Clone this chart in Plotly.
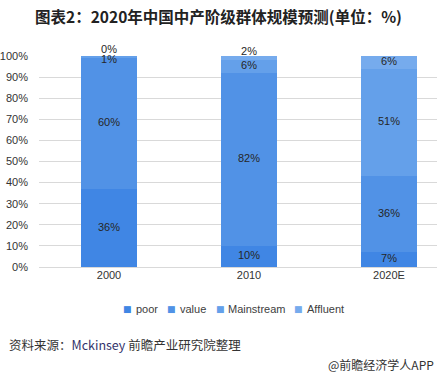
import plotly.graph_objects as go

years = ["2000", "2010", "2020E"]
series_names = ["poor", "value", "Mainstream", "Affluent"]
poor = [36, 10, 7]
value = [60, 82, 36]
mainstream = [1, 6, 51]
affluent = [0, 2, 6]
series_values = [poor, value, mainstream, affluent]
colors = ["#4086e4", "#5192e6", "#64a0ea", "#76abed"]

FONT = "Liberation Sans, Noto Sans CJK SC, sans-serif"
CJK = "Noto Sans CJK SC, Liberation Sans, sans-serif"

fig = go.Figure()
for name, vals, col in zip(series_names, series_values, colors):
    fig.add_trace(go.Bar(x=years, y=vals, name=name, marker=dict(color=col, line=dict(width=0)),
                         width=0.4, showlegend=False, hoverinfo="skip"))

# data labels at segment midpoints (normalized to 100%)
lx, ly, lt, lp = [], [], [], []
for i, yr in enumerate(years):
    total = sum(s[i] for s in series_values)
    cum = 0
    for k, s in enumerate(series_values):
        v = s[i] / total * 100
        bottom = cum
        mid = cum + v / 2
        cum += v
        is_top = k == len(series_values) - 1
        lx.append(yr)
        lt.append(f"{s[i]}%")
        if is_top and v < 3:
            ly.append(mid)
            lp.append("top center")
        elif v < 3:
            ly.append(bottom - 0.8)
            lp.append("middle center")
        else:
            ly.append(mid)
            lp.append("middle center")

fig.add_trace(go.Scatter(x=lx, y=ly, text=lt, mode="text", textposition=lp,
                         textfont=dict(family=FONT, size=11, color="#262626"),
                         cliponaxis=False, showlegend=False, hoverinfo="skip"))

L, W, T, H = 39, 398, 56, 211
def px_x(p):
    return (p - L) / W
def px_y(p):
    return (T + H - p) / H

annotations = []
# custom legend
sq_x = [127, 171, 220, 298]
tx_x = [134, 178, 226, 305]
for name, col, sx, tx in zip(series_names, colors, sq_x, tx_x):
    annotations.append(dict(x=px_x(sx), y=px_y(309), xref="paper", yref="paper", text="■",
                            showarrow=False, xanchor="center", yanchor="middle",
                            font=dict(family="DejaVu Sans", size=9, color=col)))
    annotations.append(dict(x=px_x(tx), y=px_y(309), xref="paper", yref="paper", text=name,
                            showarrow=False, xanchor="left", yanchor="middle",
                            font=dict(family=FONT, size=11, color="#404040")))

annotations.append(dict(x=px_x(7), y=px_y(344), xref="paper", yref="paper",
                        text="资料来源：<span style='color:#33336b'>Mckinsey</span> 前瞻产业研究院整理",
                        showarrow=False, xanchor="left", yanchor="middle",
                        font=dict(family=CJK, size=12.5, color="#333333")))
annotations.append(dict(x=px_x(436), y=px_y(364), xref="paper", yref="paper",
                        text="@前瞻经济学人APP", showarrow=False, xanchor="right", yanchor="middle",
                        font=dict(family=CJK, size=12, color="#333333")))

fig.update_layout(
    width=437, height=376,
    margin=dict(l=L, r=437 - L - W, t=T, b=376 - T - H, pad=0),
    barmode="stack", barnorm="percent",
    paper_bgcolor="white", plot_bgcolor="white",
    title=dict(text="<b>图表2：2020年中国中产阶级群体规模预测(单位：%)</b>",
               x=0.5, xref="container", xanchor="center",
               y=1 - 18 / 376, yref="container", yanchor="middle",
               font=dict(family=CJK, size=15.5, color="#222222")),
    xaxis=dict(type="category", range=[-0.5, -0.5 + W / 140], showgrid=False,
               showline=False, ticks="", tickfont=dict(family=FONT, size=11, color="#333333"),
               fixedrange=True),
    yaxis=dict(range=[0, 100], dtick=10, ticksuffix="%", showgrid=True,
               gridcolor="#d9d9d9", gridwidth=1, zeroline=True, zerolinecolor="#d9d9d9",
               zerolinewidth=1, showline=False, ticks="", ticklabelstandoff=10,
               tickfont=dict(family=FONT, size=11, color="#333333"), fixedrange=True),
    annotations=annotations,
    showlegend=False,
)

fig.write_html("out.html", config={"displayModeBar": False},
               post_script="document.body.style.margin='0';document.body.style.overflow='hidden';")
